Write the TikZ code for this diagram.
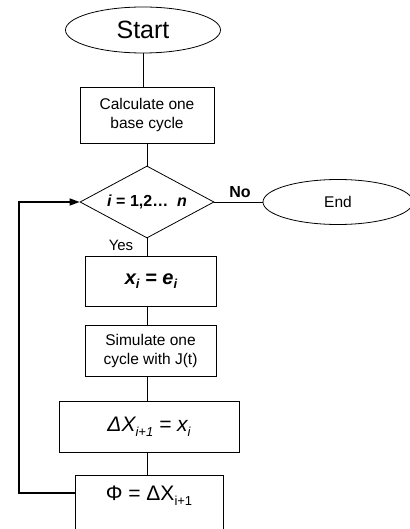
\documentclass[tikz,border=0pt]{standalone}
\usepackage{fontspec}
\setmainfont{Liberation Sans}
\usetikzlibrary{shapes.geometric,arrows.meta}
\newcommand{\sbx}[1]{\raisebox{-0.45ex}{\fontsize{13}{13}\selectfont #1}}
\begin{document}
\begin{tikzpicture}[x=1pt,y=-1pt,
  box/.style={draw,line width=0.8pt,inner sep=0pt,align=center},
  oval/.style={draw,ellipse,line width=0.8pt,inner sep=0pt},
  conn/.style={line width=0.8pt},
  loopline/.style={line width=1.6pt}]
\useasboundingbox (0,0) rectangle (409,529);
\node[oval,minimum width=155pt,minimum height=46pt,font=\fontsize{25}{25}\selectfont] (start) at (143,30) {Start};
\node[box,minimum width=134pt,minimum height=56pt,font=\fontsize{15.5}{19}\selectfont] (calc) at (147,115) {Calculate one\\ base cycle};
\node[draw,diamond,aspect=1.86,line width=0.8pt,inner sep=0pt,minimum width=134pt,minimum height=72pt,font=\fontsize{16}{16}\selectfont\bfseries] (dec) at (147,202) {\textit{i} = 1,2…\ \ \textit{n}};
\node[oval,minimum width=150pt,minimum height=45pt,font=\fontsize{15.5}{15.5}\selectfont] (end) at (338,202) {End};
\node[box,minimum width=131pt,minimum height=50pt,font=\fontsize{20}{20}\selectfont\bfseries\itshape] (xe) at (151,281) {x\sbx{i} = e\sbx{i}};
\node[box,minimum width=131pt,minimum height=51pt,font=\fontsize{15.5}{19}\selectfont] (sim) at (150.5,350.5) {Simulate one\\ cycle with J(t)};
\node[box,minimum width=180pt,minimum height=51pt,font=\fontsize{21}{21}\selectfont\itshape] (dx) at (149,426.5) {ΔX\sbx{i+1} = x\sbx{i}};
\node[box,anchor=north,minimum width=148pt,text height=15pt,text depth=42pt,inner ysep=10pt,font=\fontsize{21}{21}\selectfont] (phi) at (149,475) {Φ = ΔX\sbx{i+1}};
\coordinate (lp) at (19,493);
\draw[conn] (start) -- (start |- calc.north);
\draw[conn] (dec.north |- calc.south) -- (dec.north);
\draw[conn] (dec.south) -- (dec.south |- xe.north);
\draw[conn] (dec.south |- xe.south) -- (dec.south |- sim.north);
\draw[conn] (dec.south |- sim.south) -- (dec.south |- dx.north);
\draw[conn] (dec.south |- dx.south) -- (dec.south |- phi.north);
\draw[conn] (dec.east) -- (end.west |- dec.east);
\draw[loopline,-{Triangle[length=10pt,width=7pt]}] (phi.west |- lp) -- (lp) -- (lp |- dec.west) -- (dec.west);
\node[font=\fontsize{16}{16}\selectfont\bfseries] (no) at (240,192) {No};
\node[font=\fontsize{15}{15}\selectfont] (yes) at (121,245) {Yes};
\end{tikzpicture}
\end{document}
